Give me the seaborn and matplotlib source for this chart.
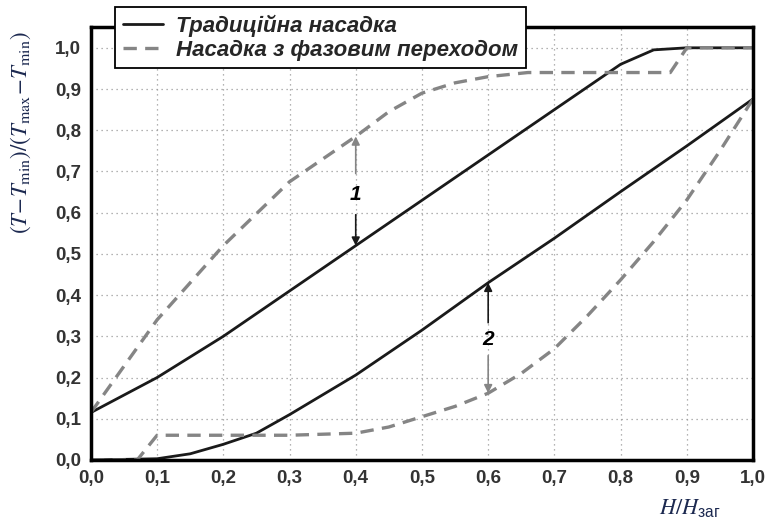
import numpy as np
import matplotlib
matplotlib.use("Agg")
import matplotlib.pyplot as plt
import seaborn as sns

# верхня пара кривих (1)
x_trad_top = [0.0, 0.1, 0.2, 0.3, 0.4, 0.5, 0.6, 0.7, 0.8, 0.85, 0.9, 1.0]
y_trad_top = [0.115, 0.2, 0.3, 0.41, 0.52, 0.63, 0.74, 0.85, 0.96, 0.995, 1.0, 1.0]
x_phase_top = [0.0, 0.1, 0.2, 0.3, 0.4, 0.45, 0.5, 0.55, 0.6, 0.66, 0.875, 0.9, 1.0]
y_phase_top = [0.115, 0.34, 0.52, 0.675, 0.785, 0.845, 0.89, 0.915, 0.93, 0.94, 0.94, 1.0, 1.0]

# нижня пара кривих (2)
x_trad_bot = [0.0, 0.1, 0.15, 0.2, 0.25, 0.3, 0.35, 0.4, 0.5, 0.6, 0.7, 0.8, 0.9, 1.0]
y_trad_bot = [0.0, 0.003, 0.015, 0.038, 0.065, 0.11, 0.158, 0.206, 0.315, 0.43, 0.538, 0.651, 0.762, 0.876]
x_phase_bot = [0.0, 0.07, 0.1, 0.2, 0.3, 0.4, 0.45, 0.5, 0.55, 0.6, 0.65, 0.7, 0.75, 0.8, 0.85, 0.9, 0.95, 1.0]
y_phase_bot = [0.0, 0.0, 0.06, 0.06, 0.06, 0.065, 0.08, 0.105, 0.13, 0.162, 0.21, 0.27, 0.35, 0.437, 0.53, 0.631, 0.75, 0.876]

ticks = [0.0, 0.1, 0.2, 0.3, 0.4, 0.5, 0.6, 0.7, 0.8, 0.9, 1.0]
tick_labels = ["0,0", "0,1", "0,2", "0,3", "0,4", "0,5", "0,6", "0,7", "0,8", "0,9", "1,0"]
legend_labels = ["Традиційна насадка", "Насадка з фазовим переходом"]

sns.set_style("white")
plt.rcParams["font.family"] = ["Liberation Sans", "DejaVu Sans"]
plt.rcParams["mathtext.fontset"] = "stix"

fig = plt.figure(figsize=(7.7, 5.23), dpi=100)
ax = fig.add_axes([0.118, 0.1205, 0.86, 0.8275])

solid = dict(color="#1a1a1a", linewidth=2.0)
dashed = dict(color="#858585", linewidth=2.4, linestyle=(0, (4, 2.5)))

sns.lineplot(x=x_trad_top, y=y_trad_top, ax=ax, label=legend_labels[0], **solid)
sns.lineplot(x=x_phase_top, y=y_phase_top, ax=ax, label=legend_labels[1], **dashed)
sns.lineplot(x=x_trad_bot, y=y_trad_bot, ax=ax, **solid)
sns.lineplot(x=x_phase_bot, y=y_phase_bot, ax=ax, **dashed)

ax.set_xlim(0, 1.0)
ax.set_ylim(0, 1.05)
ax.set_xticks(ticks)
ax.set_xticklabels(tick_labels)
ax.set_yticks(ticks)
ax.set_yticklabels(tick_labels)
ax.set_xticks(np.arange(0.05, 1.0, 0.1), minor=True)
ax.set_yticks(np.arange(0.05, 1.05, 0.1), minor=True)
ax.tick_params(which="major", length=0, pad=7, labelsize=13.5, labelcolor="#333333")
ax.tick_params(which="minor", direction="in", length=3, width=0.8, color="#777777")
for lab in ax.get_xticklabels() + ax.get_yticklabels():
    lab.set_fontweight("bold")
ax.grid(True, which="major", color="#9a9a9a", linewidth=0.9, linestyle=(0, (1, 3)))
for sp in ax.spines.values():
    sp.set_linewidth(2.5)
    sp.set_color("black")

# стрілки 1 і 2
def arrows(xp, y_up, y_dn, c_up, c_dn, label, y_lab, gap):
    ax.annotate("", xy=(xp, y_up), xytext=(xp, y_lab + gap),
                arrowprops=dict(arrowstyle="-|>", color=c_up, lw=1.2, mutation_scale=12, shrinkA=0, shrinkB=0))
    ax.annotate("", xy=(xp, y_dn), xytext=(xp, y_lab - gap),
                arrowprops=dict(arrowstyle="-|>", color=c_dn, lw=1.2, mutation_scale=12, shrinkA=0, shrinkB=0))
    ax.text(xp, y_lab, label, ha="center", va="center", fontsize=15,
            fontweight="bold", fontstyle="italic", color="black")

arrows(0.4, np.interp(0.4, x_phase_top, y_phase_top), np.interp(0.4, x_trad_top, y_trad_top),
       "#858585", "#1a1a1a", "1", 0.645, 0.05)
arrows(0.6, np.interp(0.6, x_trad_bot, y_trad_bot), np.interp(0.6, x_phase_bot, y_phase_bot),
       "#1a1a1a", "#858585", "2", 0.293, 0.04)

ax.set_ylabel(r"$(T\!-\!T_{\rm min})/(T_{\rm max}\!-\!T_{\rm min})$", fontsize=16.5, color="#1c2950")
ax.yaxis.set_label_coords(-0.088, 0.755)
ax.set_xlabel(r"$H/H_{\mathregular{заг}}$", fontsize=16, color="#1c2950")
ax.xaxis.set_label_coords(0.905, -0.086)

handles, labels = ax.get_legend_handles_labels()
ax.get_legend().remove()
leg = fig.legend(handles, labels, loc="upper left", bbox_to_anchor=(0.149, 0.987),
                 frameon=True, fancybox=False, framealpha=1, edgecolor="black",
                 prop=dict(family="Liberation Sans", weight="bold", style="italic", size=16),
                 handlelength=1.8, handletextpad=0.6, borderpad=0.35, labelspacing=0.12,
                 borderaxespad=0)
leg.get_frame().set_linewidth(1.3)

fig.savefig("out.png", dpi=100)
